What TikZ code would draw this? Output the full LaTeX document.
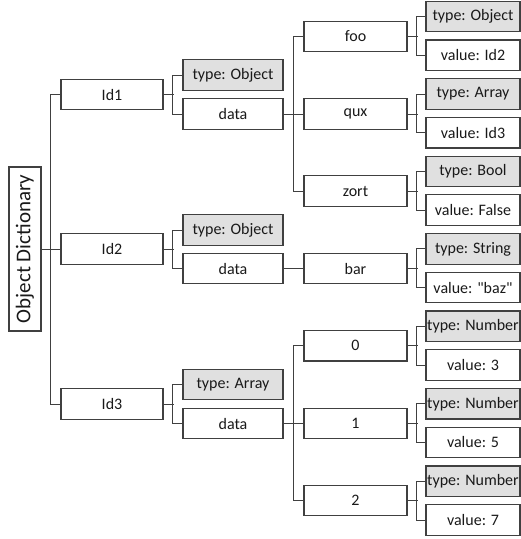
\documentclass[tikz,border=0pt]{standalone}
\usepackage{fontspec}
\setmainfont{Carlito}[Ligatures=TeXOff]
\definecolor{ln}{HTML}{404040}
\definecolor{tf}{HTML}{E0E0E0}
\tikzset{
 box/.style={draw=ln, line width=1.2pt, rectangle, inner sep=0pt, minimum height=30.5pt, font=\fontsize{16}{18}\selectfont, text=black!90},
 idbox/.style={box, minimum width=102pt},
 pbox/.style={box, minimum width=100pt},
 tbox/.style={pbox, fill=tf},
 mbox/.style={box, minimum width=103pt},
 lbox/.style={box, minimum width=94pt},
 ltbox/.style={lbox, fill=tf},
 rootbox/.style={draw=ln, line width=1.2pt, rectangle, inner sep=0pt, minimum width=164pt, minimum height=32pt, rotate=90, font=\fontsize{21}{24}\selectfont, text=black!90},
 conn/.style={draw=ln, line width=1pt},
}
\begin{document}
\begin{tikzpicture}[x=1pt,y=-1pt]
\useasboundingbox (0,0) rectangle (521,539);
% root
\node[rootbox] (root) at (25,249) {Object Dictionary};
% ids
\node[idbox] (id1) at (112,94.5) {Id1};
\node[idbox] (id2) at (112,249) {Id2};
\node[idbox] (id3) at (112,404) {Id3};
% type / data
\node[tbox] (t1) at (233,75) {type: Object};
\node[pbox] (d1) at (233,114) {data};
\node[tbox] (t2) at (233,230) {type: Object};
\node[pbox] (d2) at (233,268.5) {data};
\node[tbox] (t3) at (233,384.5) {type: Array};
\node[pbox] (d3) at (233,423.5) {data};
% members
\node[mbox] (foo) at (355.5,36.5) {foo};
\node[mbox] (qux) at (355.5,114) {qux};
\node[mbox] (zort) at (355.5,191) {zort};
\node[mbox] (bar) at (355.5,268.5) {bar};
\node[mbox] (n0) at (355.5,345.7) {0};
\node[mbox] (n1) at (355.5,423.5) {1};
\node[mbox] (n2) at (355.5,500.5) {2};
% leaves
\node[ltbox] (l0) at (473,16.5) {type: Object};
\node[lbox] (l1) at (473,55.2) {value: Id2};
\node[ltbox] (l2) at (473,94) {type: Array};
\node[lbox] (l3) at (473,132.7) {value: Id3};
\node[ltbox] (l4) at (473,171.4) {type: Bool};
\node[lbox] (l5) at (473,210.1) {value: False};
\node[ltbox] (l6) at (473,248.9) {type: String};
\node[lbox] (l7) at (473,287.6) {value: "baz"};
\node[ltbox] (l8) at (473,326.3) {type: Number};
\node[lbox] (l9) at (473,365) {value: 3};
\node[ltbox] (l10) at (473,403.8) {type: Number};
\node[lbox] (l11) at (473,442.5) {value: 5};
\node[ltbox] (l12) at (473,481.2) {type: Number};
\node[lbox] (l13) at (473,520) {value: 7};
% trunk
\draw[conn] (id1.west) -- ++(-10,0) |- (id3.west);
\draw[conn] (root.south) -- (id2.west);
% id branches
\foreach \i in {1,2,3}{
  \draw[conn] (id\i.east) -- ++(10,0);
  \draw[conn] (t\i.west) -- ++(-10,0) |- (d\i.west);
}
% data to members
\draw[conn] (d1.east) -- (qux.west);
\draw[conn] (foo.west) -- ++(-10,0) |- (zort.west);
\draw[conn] (d2.east) -- (bar.west);
\draw[conn] (d3.east) -- (n1.west);
\draw[conn] (n0.west) -- ++(-10,0) |- (n2.west);
% members to leaves
\foreach \m/\a/\b in {foo/l0/l1, qux/l2/l3, zort/l4/l5, bar/l6/l7, n0/l8/l9, n1/l10/l11, n2/l12/l13}{
  \draw[conn] (\m.east) -- ++(10,0);
  \draw[conn] (\a.west) -- ++(-9,0) |- (\b.west);
}
\end{tikzpicture}
\end{document}
